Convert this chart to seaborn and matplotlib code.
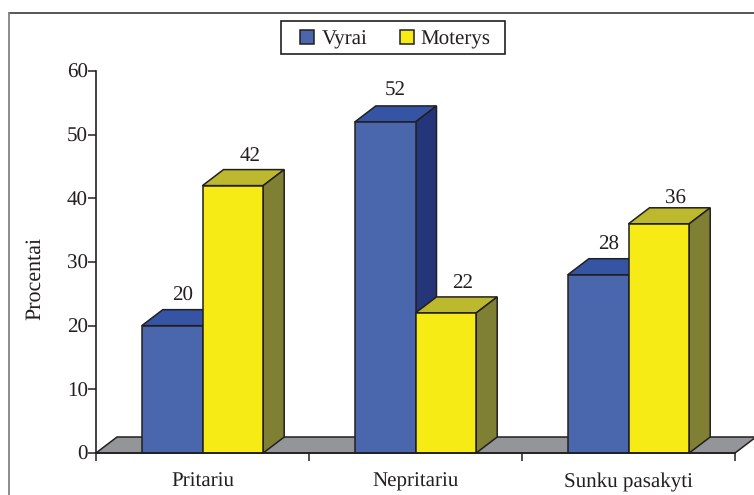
import numpy as np
import pandas as pd
import seaborn as sns
import matplotlib.pyplot as plt
from matplotlib.lines import Line2D
from matplotlib.patches import Polygon, Rectangle

categories = ["Pritariu", "Nepritariu", "Sunku pasakyti"]
vyrai = [20, 52, 28]
moterys = [42, 22, 36]
series = ["Vyrai", "Moterys"]
yticks = [0, 10, 20, 30, 40, 50, 60]

ink = "#231f20"
front_colors = ["#4a66ac", "#f6eb14"]
top_colors = ["#3554a4", "#bdb92e"]
side_colors = ["#25357a", "#7f8033"]
floor_color = "#939598"

sns.set_style("white")
plt.rcParams["font.family"] = ["Liberation Serif", "DejaVu Serif"]
plt.rcParams["text.hinting"] = "no_hinting"
plt.rcParams["text.hinting_factor"] = 1
plt.rcParams["text.color"] = ink
plt.rcParams["axes.labelcolor"] = ink
plt.rcParams["xtick.color"] = ink
plt.rcParams["ytick.color"] = ink

df = pd.DataFrame(
    {
        "kategorija": categories * 2,
        "lytis": [series[0]] * 3 + [series[1]] * 3,
        "procentai": vyrai + moterys,
    }
)

fig = plt.figure(figsize=(7.54, 4.95), dpi=100)
ax = fig.add_axes([96 / 754, 42 / 495, 639 / 754, 382 / 495])
ax.patch.set_alpha(0)

sns.barplot(
    data=df,
    x="kategorija",
    y="procentai",
    hue="lytis",
    order=categories,
    hue_order=series,
    palette=front_colors,
    saturation=1,
    width=0.57,
    gap=0,
    edgecolor=ink,
    linewidth=1.1,
    ax=ax,
)
ax.set_xlim(-0.5, 2.5)
ax.set_ylim(0, 60)

# depth of the fake 3D boxes, 21 px across and 16 px up
dx = 21 / 213
dy = 16 / (382 / 60)

floor = Polygon(
    [(-0.5, 0), (-0.5 + dx, dy), (2.5 + dx, dy), (2.5, 0)],
    facecolor=floor_color,
    edgecolor=ink,
    linewidth=1.1,
    clip_on=False,
    zorder=1,
)
ax.add_patch(floor)

# the labels were placed by hand in the original, 36 sits lower than the rest
label_rise = [[3, 3], [4, 3], [3, 0]]

for i, container in enumerate(ax.containers):
    for j, bar in enumerate(container):
        x0 = bar.get_x()
        x1 = x0 + bar.get_width()
        h = bar.get_height()
        bar.set_zorder(3 + 2 * i)
        bar.set_clip_on(False)
        top = Polygon(
            [(x0, h), (x0 + dx, h + dy), (x1 + dx, h + dy), (x1, h)],
            facecolor=top_colors[i],
            edgecolor=ink,
            linewidth=1.1,
            clip_on=False,
            zorder=2 + 2 * i,
        )
        side = Polygon(
            [(x1, 0), (x1 + dx, dy), (x1 + dx, h + dy), (x1, h)],
            facecolor=side_colors[i],
            edgecolor=ink,
            linewidth=1.1,
            clip_on=False,
            zorder=2 + 2 * i,
        )
        ax.add_patch(top)
        ax.add_patch(side)
        ax.annotate(
            f"{h:.0f}",
            ((x0 + x1) / 2 + dx * (0.5 if i == 0 else 0.8), h + dy),
            xytext=(0, label_rise[j][i]),
            textcoords="offset points",
            ha="center",
            va="bottom",
            fontsize=15,
            zorder=10,
            annotation_clip=False,
        )

ax.set_xlabel("")
ax.set_ylabel("Procentai", fontsize=15.5, labelpad=16, y=(453 - 278) / 382)
ax.set_yticks(yticks)
ax.set_xticks([0, 1, 2])
ax.set_xticklabels(categories)
ax.set_xticks([-0.5, 0.5, 1.5, 2.5], minor=True)
ax.tick_params(axis="y", labelsize=15, left=True, length=5.5, width=1.1, pad=0.5)
ax.tick_params(axis="x", which="major", labelsize=15, bottom=False, length=0, pad=14)
ax.tick_params(axis="x", which="minor", bottom=True, length=5.5, width=1.1)

sns.despine(ax=ax, top=True, right=True)
for name in ["left", "bottom"]:
    ax.spines[name].set_color(ink)
    ax.spines[name].set_linewidth(1.2)
    ax.spines[name].set_zorder(9)

sns.move_legend(
    ax,
    "center",
    bbox_to_anchor=((395.5 - 96) / 639, (71 - 39.5) / 382 + 1),
    ncol=2,
    title=None,
    frameon=False,
    fontsize=15,
    handlelength=0.67,
    handleheight=0.65,
    handletextpad=0.35,
    columnspacing=1.55,
    borderpad=0.6,
    borderaxespad=0,
)

# legend box is wider than matplotlib's even padding allows, so drawn by hand
fig.add_artist(
    Rectangle(
        (281 / 754, 1 - 54 / 495),
        224 / 754,
        33 / 495,
        facecolor="white",
        edgecolor=ink,
        linewidth=1.2,
        zorder=-1,
    )
)

# outer frame of the picture, cut by the image on the right and bottom
fig.add_artist(Line2D([9 / 754, 1], [1 - 12.5 / 495] * 2, color="#3a3a3a", lw=1.2))
fig.add_artist(Line2D([9 / 754, 9 / 754], [0, 1 - 12.5 / 495], color="#808285", lw=1.3))

fig.savefig("out.png", dpi=100)
plt.close()
